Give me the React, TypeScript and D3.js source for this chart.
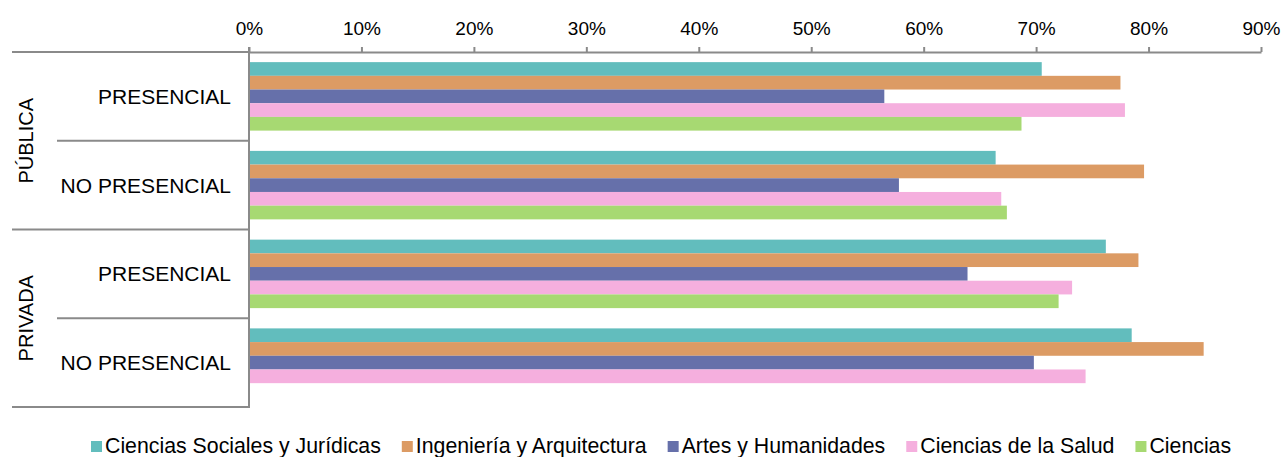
import React, { useEffect, useRef } from "react";
import * as d3 from "d3";

// valores (porcentaje)
const titularidad = ["PÚBLICA", "PRIVADA"];
const modalidades = ["PRESENCIAL", "NO PRESENCIAL", "PRESENCIAL", "NO PRESENCIAL"];
const ramas = [
  "Ciencias Sociales y Jurídicas",
  "Ingeniería y Arquitectura",
  "Artes y Humanidades",
  "Ciencias de la Salud",
  "Ciencias",
];
const cienciasSociales = [70.5, 66.4, 76.2, 78.5];
const ingenieria = [77.5, 79.6, 79.1, 84.9];
const artes = [56.5, 57.8, 63.9, 69.8];
const salud = [77.9, 66.9, 73.2, 74.4];
const ciencias = [68.7, 67.4, 72.0, null];
const tickValues = [0, 10, 20, 30, 40, 50, 60, 70, 80, 90];
const colores = ["#62bdbd", "#dc9b64", "#6670aa", "#f5afde", "#a7d972"];

const series = [cienciasSociales, ingenieria, artes, salud, ciencias];
const FONT = "'Liberation Sans', Arial, sans-serif";
const GRID = "#8a8a8a";

export default function App() {
  const ref = useRef<SVGSVGElement>(null);

  useEffect(() => {
    const width = 1285;
    const height = 457;
    const svg = d3.select(ref.current);
    svg.selectAll("*").remove();

    const left = 249;
    const right = 1261;
    const top = 52;
    const bottom = 407;

    const x = d3.scaleLinear().domain([0, 90]).range([left, right]);
    const rowKeys = modalidades.map((_, i) => String(i));
    const y = d3.scaleBand().domain(rowKeys).range([top, bottom]).padding(0);
    const yInner = d3
      .scaleBand()
      .domain(ramas)
      .range([0, y.bandwidth()])
      .paddingInner(0)
      .paddingOuter(0.74);
    const groupY = d3.scaleBand().domain(titularidad).range([top, bottom]);

    // barras
    const rows = svg
      .append("g")
      .selectAll("g")
      .data(rowKeys)
      .join("g")
      .attr("transform", (d) => `translate(0,${y(d)})`);

    rows
      .selectAll("rect")
      .data((d) => ramas.map((r, s) => ({ rama: r, s, v: series[s][+d] })))
      .join("rect")
      .filter((d) => d.v != null)
      .attr("x", x(0))
      .attr("y", (d) => yInner(d.rama)!)
      .attr("width", (d) => x(d.v as number) - x(0))
      .attr("height", yInner.bandwidth())
      .attr("fill", (d) => colores[d.s]);

    // eje superior
    const axis = svg
      .append("g")
      .attr("transform", `translate(0,${top})`)
      .call(
        d3
          .axisTop(x)
          .tickValues(tickValues)
          .tickFormat((d) => `${d}%`)
          .tickSize(5)
          .tickSizeOuter(0)
          .tickPadding(12)
      );
    axis.select(".domain").attr("stroke", GRID).attr("stroke-width", 2);
    axis.selectAll(".tick line").attr("stroke", GRID).attr("stroke-width", 2);
    axis
      .selectAll(".tick text")
      .attr("fill", "#000")
      .style("font-family", FONT)
      .style("font-size", "19px");

    // eje de categorías
    const lines = svg.append("g").attr("stroke", GRID).attr("stroke-width", 2);
    lines
      .append("line")
      .attr("x1", left)
      .attr("x2", left)
      .attr("y1", top - 5)
      .attr("y2", bottom + 1);
    const bounds = [top, ...rowKeys.map((k) => y(k)! + y.bandwidth())];
    bounds.forEach((b, i) => {
      lines
        .append("line")
        .attr("x1", i % 2 === 0 ? 12 : 57)
        .attr("x2", left)
        .attr("y1", b)
        .attr("y2", b);
    });

    svg
      .append("g")
      .selectAll("text")
      .data(modalidades)
      .join("text")
      .attr("x", 231)
      .attr("y", (_, i) => y(String(i))! + y.bandwidth() / 2 + 7.5)
      .attr("text-anchor", "end")
      .style("font-family", FONT)
      .style("font-size", "21px")
      .text((d) => d);

    svg
      .append("g")
      .selectAll("text")
      .data(titularidad)
      .join("text")
      .attr(
        "transform",
        (d) => `translate(33,${groupY(d)! + groupY.bandwidth() / 2}) rotate(-90)`
      )
      .attr("text-anchor", "middle")
      .style("font-family", FONT)
      .style("font-size", "20px")
      .text((d) => d);

    // leyenda
    const legend = svg.append("g");
    let lx = 91;
    ramas.forEach((r, i) => {
      legend
        .append("rect")
        .attr("x", lx)
        .attr("y", 441)
        .attr("width", 11)
        .attr("height", 11)
        .attr("fill", colores[i]);
      const t = legend
        .append("text")
        .attr("x", lx + 14)
        .attr("y", 452.5)
        .style("font-family", FONT)
        .style("font-size", "21.3px")
        .text(r);
      const w = (t.node() as SVGTextElement).getComputedTextLength();
      lx += 14 + w + 21;
    });

    svg.attr("width", width).attr("height", height);
  }, []);

  return (
    <svg
      ref={ref}
      width={1285}
      height={457}
      style={{ position: "absolute", left: 0, top: 0, background: "#fff" }}
    />
  );
}
